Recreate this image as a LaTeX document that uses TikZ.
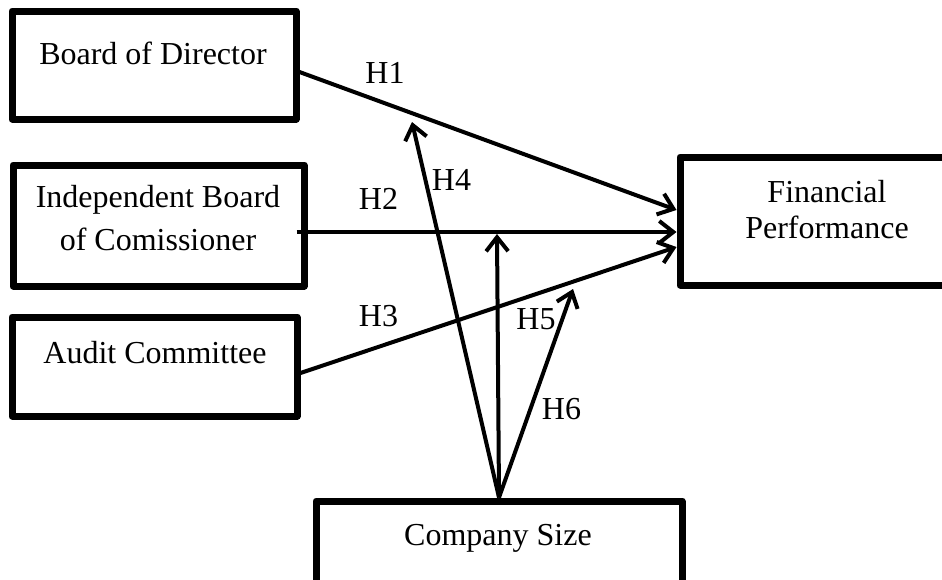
\documentclass[tikz,border=0pt]{standalone}
\usepackage{fontspec}
\setmainfont{Liberation Serif}
\usetikzlibrary{arrows.meta, positioning}

\begin{document}
\begin{tikzpicture}[x=1pt, y=-1pt,
    font=\fontsize{32}{38}\selectfont,
    box/.style={draw, line width=7pt, line join=round, inner sep=0pt},
    txt/.style={inner sep=0pt, align=center},
    hyp/.style={inner sep=0pt}]
    \useasboundingbox (0,0) rectangle (942,579);
    % Add the boxes
        \node[box,
              minimum width=284pt,
              minimum height=108pt] (bod) at (154,65) {};
        \node[box,
              minimum width=291pt,
              minimum height=121pt] (ibc) at (158.5,225.5) {};
        \node[box,
              minimum width=285pt,
              minimum height=99pt] (ac) at (154.5,366.5) {};
        \node[box,
              minimum width=294pt,
              minimum height=128pt] (fp) at (827,221) {};
        \node[box,
              minimum width=366pt,
              minimum height=89pt] (cs) at (499,545.5) {};
    % Texts of the boxes
        \node[txt] (bodtext) at (153,53) {Board of Director};
        \node[txt,
              font=\fontsize{32}{43}\selectfont] (ibctext) at (158,218) {Independent Board\\of Comissioner};
        \node[txt] (actext) at (155,353) {Audit Committee};
        \node[txt,
              font=\fontsize{32}{36}\selectfont] (fptext) at (827,210) {Financial\\Performance};
        \node[txt] (cstext) at (498,538) {Company Size};
    % Ends of the arrows from company size
        \coordinate (h4end) at (412,122);
        \coordinate (midend) at (497,234);
        \coordinate (h5end) at (573,289);

 \draw[line width=4pt,
        >={Straight Barb[length=14pt,width=22pt]}]
        	([yshift=-7pt]bod.east) edge[->] ([yshift=11pt]fp.west)
        	([xshift=-11pt,yshift=-6.5pt]ibc.east) edge[->] ([yshift=-11pt]fp.west)
        	([yshift=-6.5pt]ac.east) edge[->] ([yshift=-26pt]fp.west)
        	(cs.north) edge[->] (h4end)
        	(cs.north) edge[->] (midend)
        	(cs.north) edge[->] (h5end)
            ;

    % Hypothesis labels
        \node[hyp] (h1) at (385,72.5) {H1};
        \node[hyp] (h2) at (378.5,199) {H2};
        \node[hyp] (h3) at (378.5,316) {H3};
        \node[hyp] (h4) at (451.5,180) {H4};
        \node[hyp] (h5) at (536,319) {H5};
        \node[hyp] (h6) at (561.5,409) {H6};
\end{tikzpicture}
\end{document}
